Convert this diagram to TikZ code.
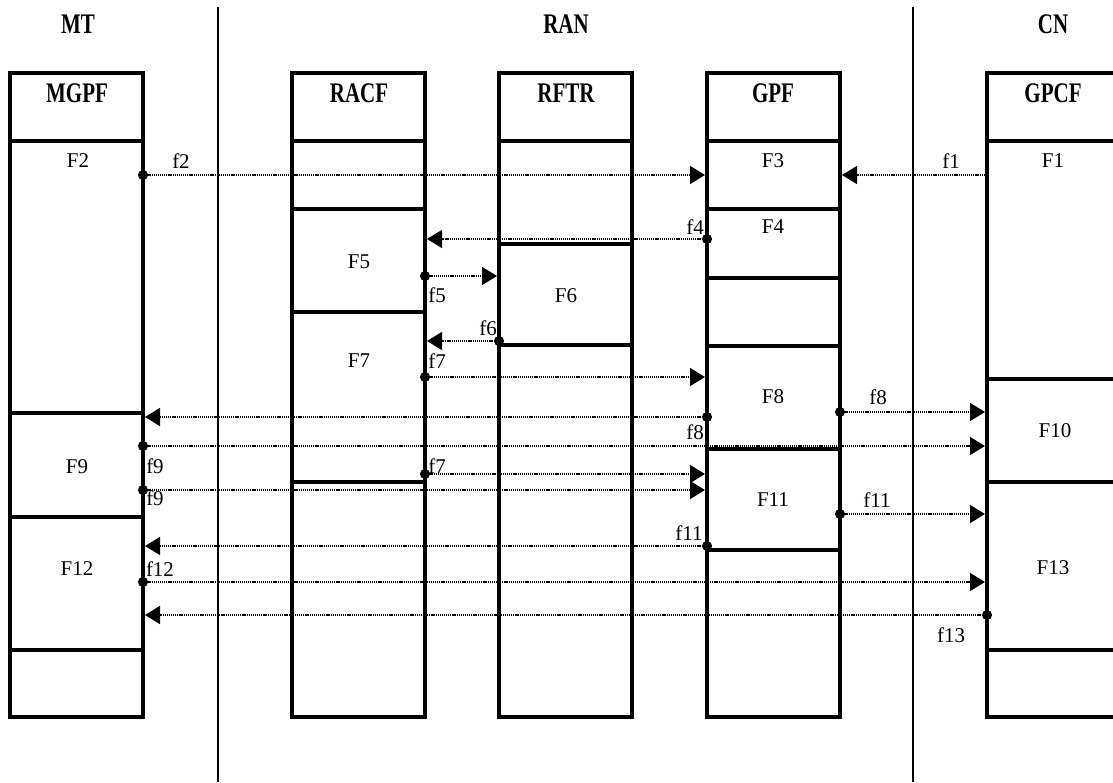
\documentclass[tikz,border=0pt]{standalone}
\usepackage{fontspec}
\setmainfont{Liberation Serif}
\usepackage{graphicx}
\usetikzlibrary{arrows.meta}

\newcommand{\tallbf}[1]{\scalebox{1}[1.35]{\bfseries #1}}

\tikzset{
  cell/.style={draw, line width=4pt, minimum width=133pt, outer sep=0pt, inner sep=0pt, anchor=north west},
  txt/.style={font=\fontsize{21}{24}\selectfont, inner sep=0pt},
  head/.style={font=\fontsize{21}{24}\selectfont, inner sep=0pt},
  sep/.style={line width=1.6pt},
  msgx/.style={line width=1.4pt, dash pattern=on 1.2pt off 0.9pt, -{Triangle[length=15pt,width=18pt]}, shorten >=2pt},
  msg/.style={msgx, {Circle[length=10pt,width=10pt]}-{Triangle[length=15pt,width=18pt]}, shorten <=-5pt}
}

\begin{document}
\begin{tikzpicture}[x=1pt, y=-1pt]
\useasboundingbox (0,0) rectangle (1113,782);
\clip (0,0) rectangle (1113,782);

% domain separators
\draw[sep] (218,7) -- (218,782);
\draw[sep] (913,7) -- (913,782);

\node[head] (mt) at (78,24) {\tallbf{MT}};
\node[head] (ran) at (566,24) {\tallbf{RAN}};
\node[head] (cn) at (1053,24) {\tallbf{CN}};

% MGPF column
\node[cell, minimum height=68pt] (m0) at (10,73) {};
\node[cell, minimum height=272pt] (m1) at (10,141) {};
\node[cell, minimum height=104pt] (m2) at (10,413) {};
\node[cell, minimum height=133pt] (m3) at (10,517) {};
\node[cell, minimum height=67pt] (m4) at (10,650) {};

% RACF column
\node[cell, minimum height=68pt] (r0) at (292,73) {};
\node[cell, minimum height=68pt] (r1) at (292,141) {};
\node[cell, minimum height=103pt] (r2) at (292,209) {};
\node[cell, minimum height=170pt] (r3) at (292,312) {};
\node[cell, minimum height=235pt] (r4) at (292,482) {};

% RFTR column
\node[cell, minimum height=68pt] (t0) at (499,73) {};
\node[cell, minimum height=103pt] (t1) at (499,141) {};
\node[cell, minimum height=101pt] (t2) at (499,244) {};
\node[cell, minimum height=372pt] (t3) at (499,345) {};

% GPF column
\node[cell, minimum height=68pt] (g0) at (707,73) {};
\node[cell, minimum height=68pt] (g1) at (707,141) {};
\node[cell, minimum height=69pt] (g2) at (707,209) {};
\node[cell, minimum height=68pt] (g3) at (707,278) {};
\node[cell, minimum height=103pt] (g4) at (707,346) {};
\node[cell, minimum height=101pt] (g5) at (707,449) {};
\node[cell, minimum height=167pt] (g6) at (707,550) {};

% GPCF column
\node[cell, minimum height=68pt] (c0) at (987,73) {};
\node[cell, minimum height=238pt] (c1) at (987,141) {};
\node[cell, minimum height=103pt] (c2) at (987,379) {};
\node[cell, minimum height=168pt] (c3) at (987,482) {};
\node[cell, minimum height=67pt] (c4) at (987,650) {};

% column titles
\node[head] (hmgpf) at (77,93) {\tallbf{MGPF}};
\node[head] (hracf) at (359,93) {\tallbf{RACF}};
\node[head] (hrftr) at (566,93) {\tallbf{RFTR}};
\node[head] (hgpf) at (773,93) {\tallbf{GPF}};
\node[head] (hgpcf) at (1053,93) {\tallbf{GPCF}};

% function labels
\node[txt] (lF2) at (78,161) {F2};
\node[txt] (lF3) at (773,161) {F3};
\node[txt] (lF1) at (1053,161) {F1};
\node[txt] (lF4) at (773,227) {F4};
\node[txt] (lF5) at (359,262) {F5};
\node[txt] (lF6) at (566,296) {F6};
\node[txt] (lF7) at (359,361) {F7};
\node[txt] (lF8) at (773,397) {F8};
\node[txt] (lF10) at (1055,431) {F10};
\node[txt] (lF9) at (77,467) {F9};
\node[txt] (lF11) at (773,500) {F11};
\node[txt] (lF12) at (77,569) {F12};
\node[txt] (lF13) at (1053,568) {F13};

% flows
\draw[msg] (m1.east |- 0,175) -- (g1.west |- 0,175);
\draw[msgx] (c1.west |- 0,175) -- (g1.east |- 0,175);
\draw[msg] (g2.west |- 0,239) -- (r2.east |- 0,239);
\draw[msg] (r2.east |- 0,276) -- (t2.west |- 0,276);
\draw[msg] (t2.west |- 0,341) -- (r3.east |- 0,341);
\draw[msg] (r3.east |- 0,377) -- (g4.west |- 0,377);
\draw[msg] (g4.west |- 0,417) -- (m2.east |- 0,417);
\draw[msg] (g4.east |- 0,412) -- (c2.west |- 0,412);
\draw[msg] (m2.east |- 0,446) -- (c2.west |- 0,446);
\draw[msg] (r3.east |- 0,474) -- (g5.west |- 0,474);
\draw[msg] (m2.east |- 0,490) -- (g5.west |- 0,490);
\draw[msg] (g5.east |- 0,514) -- (c3.west |- 0,514);
\draw[msg] (g5.west |- 0,546) -- (m3.east |- 0,546);
\draw[msg] (m3.east |- 0,582) -- (c3.west |- 0,582);
\draw[msg] (c3.west |- 0,615) -- (m3.east |- 0,615);

% flow labels
\node[txt] (f2) at (181,161) {f2};
\node[txt] (f1) at (951,161) {f1};
\node[txt] (f4) at (695,227) {f4};
\node[txt] (f5) at (437,295) {f5};
\node[txt] (f6) at (488,328) {f6};
\node[txt] (f7a) at (437,361) {f7};
\node[txt] (f8a) at (878,397) {f8};
\node[txt] (f8b) at (695,432) {f8};
\node[txt] (f9a) at (155,466) {f9};
\node[txt] (f7b) at (437,466) {f7};
\node[txt] (f9b) at (155,498) {f9};
\node[txt] (f11a) at (877,500) {f11};
\node[txt] (f11b) at (689,533) {f11};
\node[txt] (f12) at (160,569) {f12};
\node[txt] (f13) at (951,635) {f13};
\end{tikzpicture}
\end{document}
